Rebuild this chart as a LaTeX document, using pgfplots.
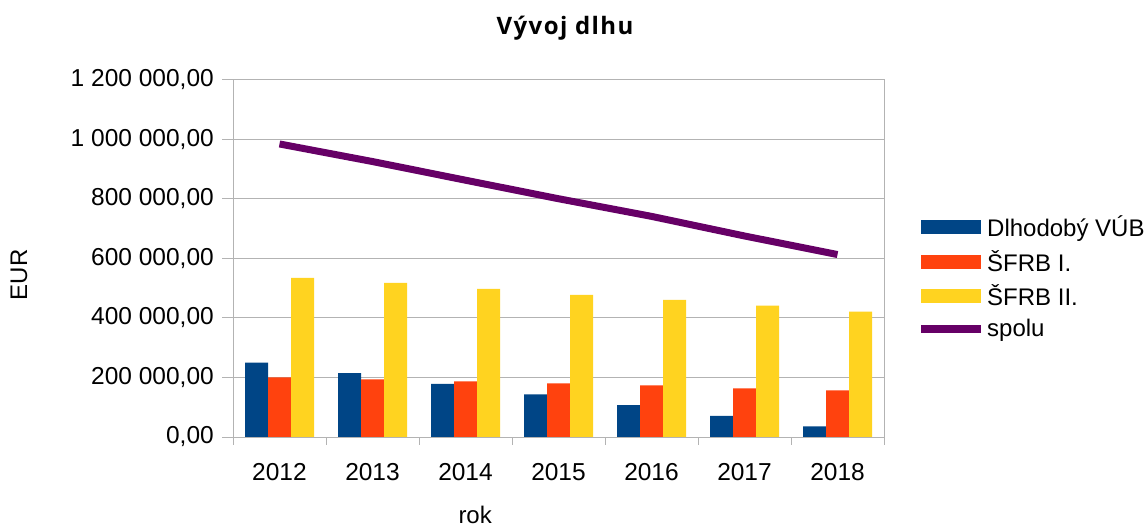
\documentclass[border=0pt]{standalone}
\usepackage{fontspec}
\setmainfont{Liberation Sans}
\newfontfamily\titlefont[LetterSpace=6]{Open Sans}
\usepackage{pgfplots}
\pgfplotsset{compat=1.18}
\definecolor{cblue}{HTML}{004586}
\definecolor{cred}{HTML}{FF420E}
\definecolor{cyellow}{HTML}{FFD320}
\definecolor{cpurple}{HTML}{660066}
\definecolor{cgrid}{HTML}{B3B3B3}
\pgfplotstableread{
x blue red yellow spolu
0 250000 200000 535000 985000
1 214300 193300 518300 925900
2 178600 186600 498000 863200
3 142900 180000 478000 800900
4 107100 173200 461300 741600
5 71400 163100 441200 675700
6 35700 156500 421100 613300
}\debt
\begin{document}
\begin{tikzpicture}
\useasboundingbox (0bp,0bp) rectangle (1145bp,527bp);
\node[font=\titlefont\bfseries\fontsize{24bp}{28bp}\selectfont] at (565bp,499bp) {Vývoj dlhu};
\begin{axis}[
  at={(233bp,90bp)}, anchor=south west,
  scale only axis, width=651bp, height=357bp,
  ybar=0pt, bar width=23bp,
  xmin=-0.5, xmax=6.5, ymin=0, ymax=1200000,
  xtick={0,...,6}, xticklabels={2012,2013,2014,2015,2016,2017,2018},
  minor xtick={-0.5,0.5,...,6.5},
  ytick={0,200000,400000,600000,800000,1000000,1200000},
  yticklabels={{0,00},{200 000,00},{400 000,00},{600 000,00},{800 000,00},{1 000 000,00},{1 200 000,00}},
  scaled y ticks=false,
  tick align=outside, tick pos=left,
  major tick length=11bp, minor tick length=8bp,
  major x tick style={draw=none},
  every tick/.style={color=cgrid, line width=1bp},
  axis line style={draw=cgrid, line width=1bp},
  ymajorgrids, grid style={color=cgrid, line width=1bp},
  /pgf/number format/assume math mode=true,
  ticklabel style={font=\fontsize{24.5bp}{29bp}\selectfont},
  yticklabel style={inner sep=0pt, xshift=-8bp},
  xticklabel style={anchor=base, yshift=-32bp},
  xlabel={rok}, ylabel={EUR},
  label style={font=\fontsize{24bp}{28bp}\selectfont},
  xlabel style={at={(axis description cs:0.372,-0.2185)}, anchor=center},
  ylabel style={at={(axis description cs:-0.3287,0.454)}, anchor=center},
  legend style={draw=none, fill=none, at={(axis description cs:1.0507,0.448)}, anchor=west,
    inner sep=0pt, row sep=8bp, font=\fontsize{24bp}{28bp}\selectfont,
    /tikz/every odd column/.style={column sep=0pt}},
  legend cell align=left,
]
\addplot[fill=cblue, draw=none, legend image code/.code={\fill[cblue] (0bp,-7bp) rectangle (60bp,7bp);}] table[x=x,y=blue]{\debt};
\addlegendentry{Dlhodobý VÚB}
\addplot[fill=cred, draw=none, legend image code/.code={\fill[cred] (0bp,-7bp) rectangle (60bp,7bp);}] table[x=x,y=red]{\debt};
\addlegendentry{ŠFRB I.}
\addplot[fill=cyellow, draw=none, legend image code/.code={\fill[cyellow] (0bp,-7bp) rectangle (60bp,7bp);}] table[x=x,y=yellow]{\debt};
\addlegendentry{ŠFRB II.}
\addplot[sharp plot, draw=cpurple, line width=7bp, mark=none, legend image code/.code={\draw[cpurple, line width=8bp] (0bp,0bp) -- (60bp,0bp);}] table[x=x,y=spolu]{\debt};
\addlegendentry{spolu}
\end{axis}
\end{tikzpicture}
\end{document}
